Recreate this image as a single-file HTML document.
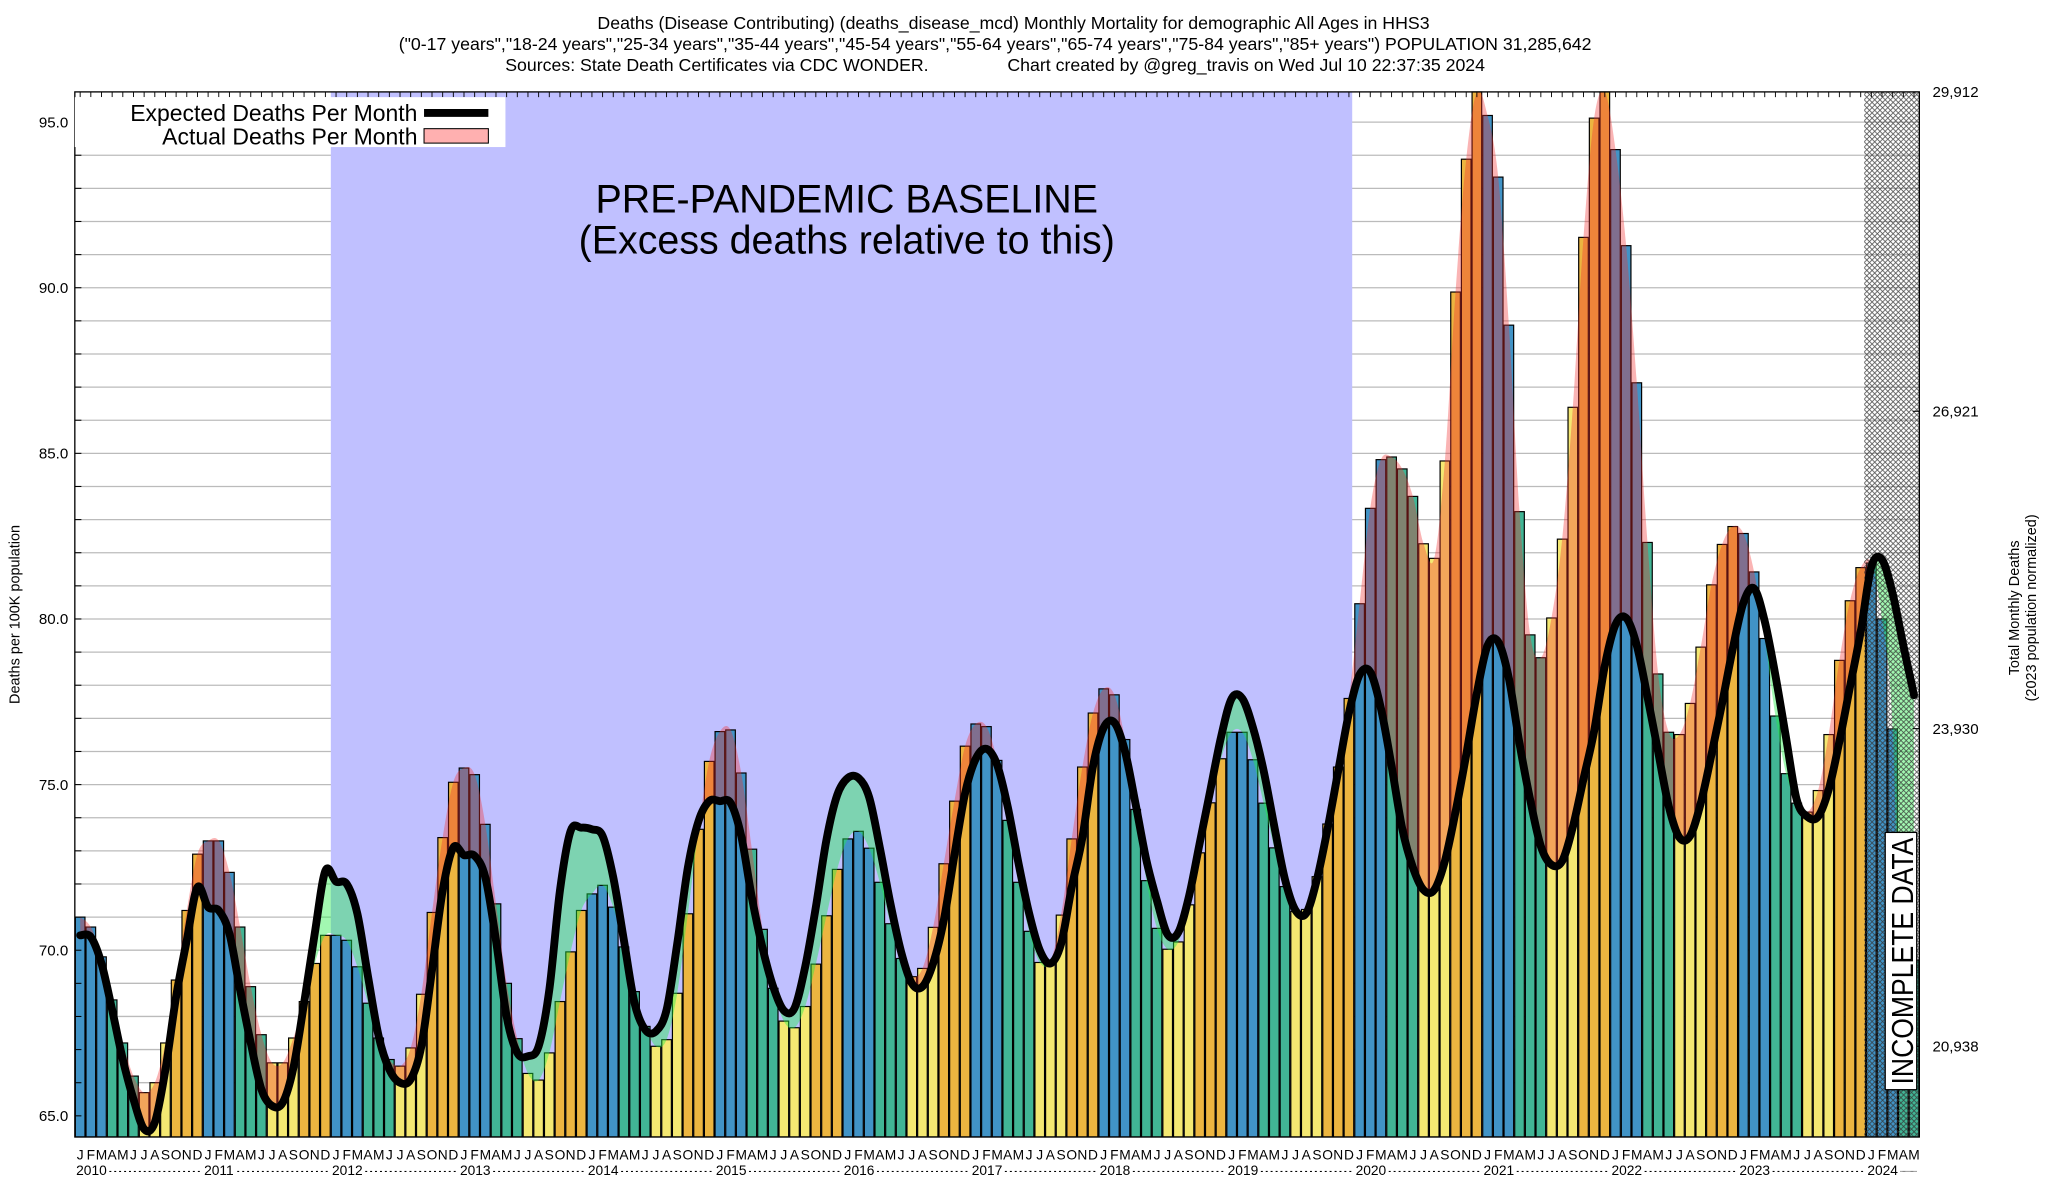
<!DOCTYPE html>
<html><head><meta charset="utf-8"><style>
html,body{margin:0;padding:0;background:#fff}
svg{display:block;font-family:"Liberation Sans",sans-serif}
</style></head><body>
<svg id="chart" width="2048" height="1200" viewBox="0 0 1560 914" preserveAspectRatio="none" xmlns="http://www.w3.org/2000/svg">
<defs>
<pattern id="hatch" patternUnits="userSpaceOnUse" width="4" height="4">
<path d="M0,0 L4,4 M4,0 L0,4" stroke="#333" stroke-width="0.6"/>
</pattern>
</defs>
<g font-size="13.5" text-anchor="middle" fill="#000">
<text x="772" y="22">Deaths (Disease Contributing) (deaths_disease_mcd) Monthly Mortality for demographic All Ages in HHS3</text>
<text x="758" y="38">("0-17 years","18-24 years","25-34 years","35-44 years","45-54 years","55-64 years","65-74 years","75-84 years","85+ years") POPULATION 31,285,642</text>
<text x="758" y="54" xml:space="preserve">Sources: State Death Certificates via CDC WONDER.                Chart created by @greg_travis on Wed Jul 10 22:37:35 2024</text>
</g>
<g id="grid"></g>
<rect x="252" y="70" width="778" height="796" fill="#c0c0ff"/>
<g id="bars"></g>
<g id="overlay"></g>
<rect x="1420" y="70" width="42" height="796" fill="url(#hatch)" opacity="0.85"/>
<path id="expline" fill="none" stroke="#000" stroke-width="6" stroke-linejoin="round" stroke-linecap="round"/>
<rect x="57" y="70" width="1405" height="796" fill="none" stroke="#000" stroke-width="1"/>
<g id="axes" fill="#000"></g>
<g font-size="30" text-anchor="middle">
<text x="645" y="162">PRE-PANDEMIC BASELINE</text>
<text x="645" y="193">(Excess deaths relative to this)</text>
</g>
<g>
<rect x="57" y="74" width="328" height="38" fill="#fff"/>
<text x="318" y="92" font-size="17.5" text-anchor="end">Expected Deaths Per Month</text>
<line x1="323" y1="86" x2="372" y2="86" stroke="#000" stroke-width="6"/>
<text x="318" y="110" font-size="17.5" text-anchor="end">Actual Deaths Per Month</text>
<rect x="323" y="98" width="49" height="11" fill="#ffb0b0" stroke="#000" stroke-width="0.8"/>
</g>
<g transform="translate(1448,732) rotate(-90)">
<rect x="-98" y="-12" width="196" height="24" fill="#fff" stroke="#000" stroke-width="1"/>
<text x="0" y="9" font-size="23" text-anchor="middle" textLength="188" lengthAdjust="spacingAndGlyphs">INCOMPLETE DATA</text>
</g>
<text transform="translate(15,468) rotate(-90)" font-size="11" text-anchor="middle">Deaths per 100K population</text>
<g font-size="11" text-anchor="middle">
<text transform="translate(1538,463) rotate(-90)">Total Monthly Deaths</text>
<text transform="translate(1551,463) rotate(-90)">(2023 population normalized)</text>
</g>
</svg>
<script>
const actual = [
71.0,70.7,69.8,68.5,67.2,66.2,65.7,66.0,67.2,69.1,71.2,72.9,
73.3,73.3,72.35,70.7,68.9,67.45,66.6,66.6,67.35,68.45,69.6,70.45,
70.45,70.3,69.5,68.4,67.35,66.7,66.5,67.05,68.67,71.14,73.4,75.07,
75.5,75.3,73.8,71.4,69.0,67.33,66.28,66.08,66.9,68.45,69.95,71.2,
71.7,71.96,71.3,70.1,68.75,67.7,67.1,67.3,68.7,71.1,73.65,75.7,
76.6,76.65,75.35,73.05,70.63,68.85,67.86,67.66,68.3,69.58,71.04,72.44,
73.36,73.59,73.08,72.05,70.8,69.75,69.2,69.45,70.69,72.61,74.5,76.16,
76.83,76.75,75.73,73.92,72.05,70.57,69.63,69.66,71.06,73.36,75.53,77.16,
77.89,77.71,76.36,74.25,72.1,70.66,70.03,70.25,71.37,72.94,74.45,75.78,
76.58,76.58,75.75,74.44,73.09,71.92,71.17,71.23,72.22,73.81,75.53,77.6,
80.46,83.34,84.81,84.89,84.53,83.7,82.27,81.83,84.77,89.87,93.88,96.3,
95.2,93.34,88.87,83.24,79.52,78.83,80.03,82.41,86.39,91.52,95.12,96.2,
94.17,91.27,87.13,82.31,78.34,76.58,76.51,77.45,79.15,81.03,82.25,82.79,
82.58,81.42,79.41,77.07,75.33,74.44,74.17,74.82,76.51,78.75,80.55,81.55,
81.69,80.0,76.68,66.0,69.7];
const expected = [
70.45,70.4,69.6,68.2,66.7,65.5,64.6,64.8,66.4,68.6,70.3,71.9,
71.3,71.2,70.5,68.8,67.2,65.8,65.3,65.4,66.45,68.4,70.5,72.4,
72.07,72.0,71.1,69.2,67.4,66.4,66.0,66.1,67.1,69.4,71.8,73.1,
72.87,72.85,72.2,70.3,68.0,66.9,66.8,67.1,68.8,71.8,73.6,73.7,
73.65,73.45,72.2,70.3,68.4,67.6,67.55,68.2,70.2,72.5,73.9,74.5,
74.5,74.45,73.45,71.59,70.07,68.9,68.18,68.25,69.5,71.3,73.34,74.68,
75.2,75.2,74.62,73.1,71.4,69.95,69.0,68.9,69.6,70.9,72.87,74.74,
75.78,76.08,75.6,74.33,72.64,71.12,70.0,69.6,70.19,71.9,73.4,75.56,
76.72,76.87,76.0,74.4,72.72,71.49,70.47,70.54,71.63,73.23,74.83,76.43,
77.6,77.6,76.72,75.42,73.74,72.14,71.2,71.12,72.14,73.67,75.42,77.16,
78.32,78.4,77.3,75.56,73.67,72.5,71.82,71.82,72.69,74.18,75.9,77.76,
79.2,79.31,78.21,76.24,74.54,73.14,72.58,72.69,73.72,75.17,76.62,78.59,
79.83,80.03,79.2,77.65,75.99,74.34,73.4,73.45,74.44,75.9,77.45,79.1,
80.49,80.92,79.93,78.3,76.41,74.54,74.03,74.03,74.85,76.3,77.96,79.62,
81.58,81.79,80.76,79.2,77.7];
const monthLetters = ["J","F","M","A","M","J","J","A","S","O","N","D"];
const years = [2010,2011,2012,2013,2014,2015,2016,2017,2018,2019,2020,2021,2022,2023,2024];
const yTicks = [65,70,75,80,85,90,95];
const rightLabels = ["29,912","26,921","23,930","20,938"];
const rightValues = [95.91,86.27,76.69,67.1];

const NS="http://www.w3.org/2000/svg";
const L=57,R=1462,T=70,B=866;
const N=actual.length, W=(R-L)/N;
const yv=v=>93+(95-v)*25.23;
const xc=i=>L+(i+0.5)*W;
const seasonColor=["#4193c6","#4193c6","#4193c6","#41b595","#41b595","#41b595","#f4e872","#f4e872","#f4e872","#ecb540","#ecb540","#ecb540"];
function mk(tag,attrs,parent){const e=document.createElementNS(NS,tag);for(const k in attrs)e.setAttribute(k,attrs[k]);parent.appendChild(e);return e;}
const grid=document.getElementById('grid'),bars=document.getElementById('bars'),ov=document.getElementById('overlay'),axes=document.getElementById('axes');
for(let v=65;v<=95;v++){
  const g=mk('line',{x1:L,x2:R,y1:yv(v),y2:yv(v),stroke:'#bbb','stroke-width':1},grid);
  
  
  const t=mk('line',{x1:L,x2:L+5,y1:yv(v),y2:yv(v),stroke:'#000','stroke-width':0.8},axes);
  
  
}
yTicks.forEach(v=>{
  const t=mk('text',{x:L-5,y:yv(v)+4,'font-size':11.5,'text-anchor':'end'},axes);
  t.textContent=v.toFixed(1);
  
  
});
rightLabels.forEach((s,k)=>{
  const t=mk('text',{x:1472,y:yv(rightValues[k])+4,'font-size':11.5},axes);
  t.textContent=s;
  
  
  mk('line',{x1:R-5,x2:R,y1:yv(rightValues[k]),y2:yv(rightValues[k]),stroke:'#000','stroke-width':0.8},axes);
});
const clipTop=yv(95.91);
for(let i=0;i<N;i++){
  const top=Math.max(yv(actual[i]),clipTop);
  const r=mk('rect',{x:L+i*W+0.4,y:top,width:W-0.8,height:B-top,fill:seasonColor[i%12],stroke:'#000','stroke-width':0.9},bars);
  
  
  const tk=mk('line',{x1:xc(i),x2:xc(i),y1:T,y2:T+4,stroke:'#000','stroke-width':0.7},axes);
  const ml=mk('text',{x:xc(i),y:883,'font-size':10.5,'text-anchor':'middle'},axes);
  ml.textContent=monthLetters[i%12];
  
  
}
years.forEach((yr,k)=>{
  const x0=L+k*12*W;
  const t=mk('text',{x:x0+1,y:895,'font-size':10.5},axes);
  t.textContent=yr;
  
  
  const end=Math.min(L+(k+1)*12*W,R);
  if(end-x0-26>10){
    const d=mk('text',{x:x0+26,y:895,'font-size':10.5,textLength:end-x0-28,lengthAdjust:'spacingAndGlyphs'},axes);
    d.textContent='- - - - - - - - - - - - - - - - - - -';
  }
});
function spline(pts){
  let d='M'+pts[0][0].toFixed(2)+','+pts[0][1].toFixed(2);
  for(let i=0;i<pts.length-1;i++){
    const p0=pts[Math.max(i-1,0)],p1=pts[i],p2=pts[i+1],p3=pts[Math.min(i+2,pts.length-1)];
    const c1=[p1[0]+(p2[0]-p0[0])/6,p1[1]+(p2[1]-p0[1])/6];
    const c2=[p2[0]-(p3[0]-p1[0])/6,p2[1]-(p3[1]-p1[1])/6];
    d+='C'+c1[0].toFixed(2)+','+c1[1].toFixed(2)+' '+c2[0].toFixed(2)+','+c2[1].toFixed(2)+' '+p2[0].toFixed(2)+','+p2[1].toFixed(2);
  }
  return d;
}
const ePts=expected.map((v,i)=>[xc(i),yv(v)]);
const aPts=actual.map((v,i)=>[xc(i),Math.max(yv(v),clipTop)]);
const eD=spline(ePts);
const eRev=spline(ePts.slice().reverse());
const aD=spline(aPts);
const area=aD+'L'+eRev.slice(1)+'Z';
const defs=document.querySelector('defs');
const cpA=mk('clipPath',{id:'above'},defs);
mk('path',{d:eD+'L'+R+','+T+'L'+L+','+T+'Z'},cpA);
const cpB=mk('clipPath',{id:'below'},defs);
mk('path',{d:eD+'L'+R+','+B+'L'+L+','+B+'Z'},cpB);
const red=mk('path',{d:area,fill:'#f03030','fill-opacity':0.36,'clip-path':'url(#above)'},ov);


const grn=mk('path',{d:area,fill:'#22ee44','fill-opacity':0.42,'clip-path':'url(#below)'},ov);


document.getElementById('expline').setAttribute('d',eD);
</script>
</body></html>
